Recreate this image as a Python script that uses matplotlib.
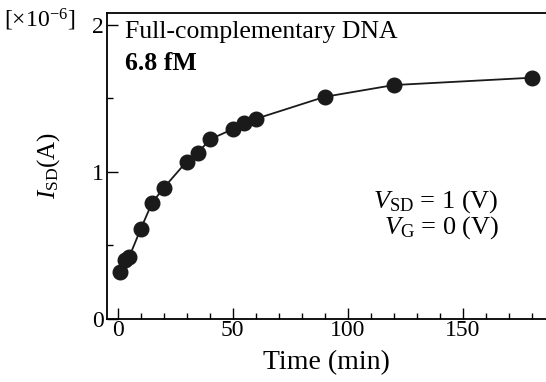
import matplotlib
matplotlib.use("Agg")
import matplotlib.pyplot as plt
from matplotlib.ticker import MultipleLocator

# data (time in min, current in 1e-6 A)
time_min = [1, 3, 5, 10, 15, 20, 30, 35, 40, 50, 55, 60, 90, 120, 180]
current = [0.32, 0.40, 0.42, 0.61, 0.79, 0.89, 1.07, 1.13, 1.22, 1.29, 1.33, 1.36, 1.51, 1.59, 1.64]
x_ticks = [0, 50, 100, 150]
y_ticks = [0, 1, 2]

plt.rcParams['font.family'] = ['Liberation Serif', 'DejaVu Serif']
plt.rcParams['mathtext.fontset'] = 'custom'
plt.rcParams['mathtext.rm'] = 'Liberation Serif'
plt.rcParams['mathtext.it'] = 'Liberation Serif:italic'
plt.rcParams['mathtext.bf'] = 'Liberation Serif:bold'

fig = plt.figure(figsize=(5.46, 3.82), dpi=100)
ax = fig.add_axes([0.196, 0.165, 0.804, 0.801])

ax.plot(time_min, current, '-', color='#1a1a1a', lw=1.3, marker='o',
        ms=10.5, mfc='#1a1a1a', mec='#1a1a1a', zorder=3)

ax.set_xlim(-4.6, 186.2)
ax.set_ylim(0, 2.08)
ax.set_xticks(x_ticks)
ax.set_yticks(y_ticks)
ax.xaxis.set_minor_locator(MultipleLocator(10))
ax.yaxis.set_minor_locator(MultipleLocator(0.5))
ax.tick_params(which='both', direction='in', top=False, right=False, labelsize=17, width=1)
ax.tick_params(which='major', length=8, pad=2)
ax.tick_params(which='minor', length=4.5)
ax.tick_params(axis='x', pad=1)
ax.spines['right'].set_visible(False)
for s in ['left', 'bottom', 'top']:
    ax.spines[s].set_linewidth(1.3)

ax.set_xlabel('Time (min)', fontsize=20, labelpad=6)
ax.set_ylabel(r'$I_{\mathrm{SD}}$(A)', fontsize=18, labelpad=22)
fig.text(0.008, 0.948, r'[$\times$10$^{-6}$]', fontsize=17, va='center', ha='left')

ax.text(0.041, 0.918, 'Full-complementary DNA', transform=ax.transAxes,
        fontsize=18.5, va='baseline', ha='left')
ax.text(0.041, 0.814, '6.8 fM', transform=ax.transAxes,
        fontsize=18.5, va='baseline', ha='left', fontweight='bold')
ax.text(0.893, 0.364, r'$V_{\mathrm{SD}}$ = 1 (V)', transform=ax.transAxes,
        fontsize=19, va='baseline', ha='right')
ax.text(0.893, 0.280, r'$V_{\mathrm{G}}$ = 0 (V)', transform=ax.transAxes,
        fontsize=19, va='baseline', ha='right')

fig.savefig('out.png', dpi=100)
